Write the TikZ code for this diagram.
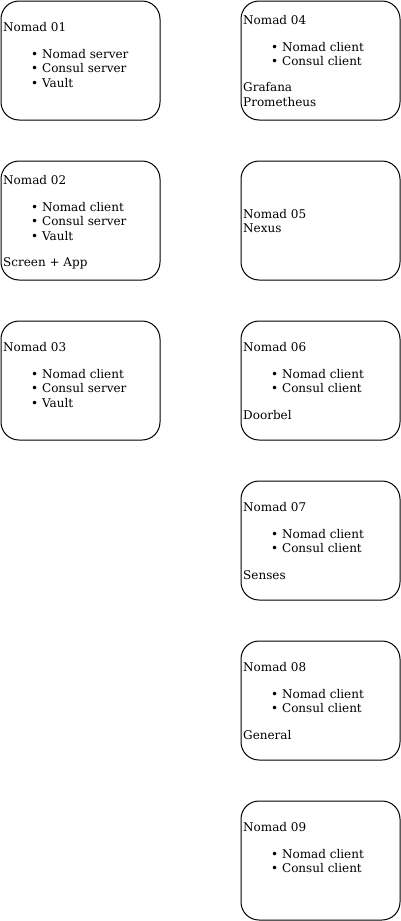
\documentclass[tikz,border=0pt]{standalone}
\usepackage{fontspec}
\setmainfont{DejaVu Serif}
\tikzset{
	host/.style={draw, line width=1pt, rounded corners=18pt, anchor=north west,
			minimum width=159pt, minimum height=119pt, inner sep=0pt, outer sep=0pt},
	txt/.style={anchor=base west, inner sep=0pt, font=\fontsize{12}{14}\selectfont},
}

\begin{document}
\begin{tikzpicture}[x=1pt, y=-1pt]
	\useasboundingbox (0,0) rectangle (401,921);

	% Hosts, left column
	\node [host] (n01) at (1,1) {};
	\node [host] (n02) at (1,161) {};
	\node [host] (n03) at (1,321) {};

	% Hosts, right column
	\node [host] (n04) at (241,1) {};
	\node [host] (n05) at (241,161) {};
	\node [host] (n06) at (241,321) {};
	\node [host] (n07) at (241,481) {};
	\node [host] (n08) at (241,641) {};
	\node [host] (n09) at (241,801) {};

	% Nomad 01
	\node [txt] (t01) at (3,31) {Nomad 01};
	\node [txt] (t01a) at (31,58) {• Nomad server};
	\node [txt] (t01b) at (31,72) {• Consul server};
	\node [txt] (t01c) at (31,87) {• Vault};

	% Nomad 02
	\node [txt] (t02) at (3,184) {Nomad 02};
	\node [txt] (t02a) at (31,211) {• Nomad client};
	\node [txt] (t02b) at (31,225) {• Consul server};
	\node [txt] (t02c) at (31,240) {• Vault};
	\node [txt] (t02d) at (3,266) {Screen + App};

	% Nomad 03
	\node [txt] (t03) at (3,351) {Nomad 03};
	\node [txt] (t03a) at (31,378) {• Nomad client};
	\node [txt] (t03b) at (31,392) {• Consul server};
	\node [txt] (t03c) at (31,407) {• Vault};

	% Nomad 04
	\node [txt] (t04) at (243,24) {Nomad 04};
	\node [txt] (t04a) at (271,51) {• Nomad client};
	\node [txt] (t04b) at (271,65) {• Consul client};
	\node [txt] (t04c) at (243,91) {Grafana};
	\node [txt] (t04d) at (243,106) {Prometheus};

	% Nomad 05
	\node [txt] (t05) at (243,218) {Nomad 05};
	\node [txt] (t05a) at (243,232) {Nexus};

	% Nomad 06
	\node [txt] (t06) at (243,351) {Nomad 06};
	\node [txt] (t06a) at (271,378) {• Nomad client};
	\node [txt] (t06b) at (271,392) {• Consul client};
	\node [txt] (t06c) at (243,419) {Doorbel};

	% Nomad 07
	\node [txt] (t07) at (243,511) {Nomad 07};
	\node [txt] (t07a) at (271,538) {• Nomad client};
	\node [txt] (t07b) at (271,552) {• Consul client};
	\node [txt] (t07c) at (243,579) {Senses};

	% Nomad 08
	\node [txt] (t08) at (243,671) {Nomad 08};
	\node [txt] (t08a) at (271,698) {• Nomad client};
	\node [txt] (t08b) at (271,712) {• Consul client};
	\node [txt] (t08c) at (243,739) {General};

	% Nomad 09
	\node [txt] (t09) at (243,831) {Nomad 09};
	\node [txt] (t09a) at (271,858) {• Nomad client};
	\node [txt] (t09b) at (271,872) {• Consul client};
\end{tikzpicture}
\end{document}
